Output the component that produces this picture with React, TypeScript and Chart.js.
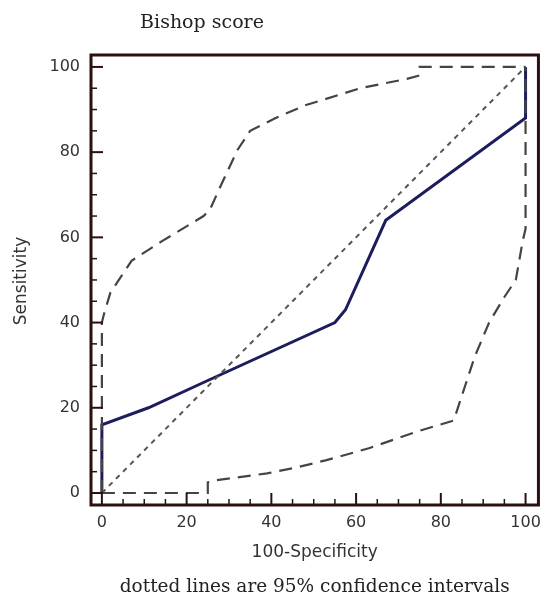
import React, { useEffect, useRef } from "react";
import { Chart, registerables } from "chart.js";

Chart.register(...registerables);

// ---- tick labels / axis ranges ----
const xTickValues = [0, 20, 40, 60, 80, 100];
const yTickValues = [0, 20, 40, 60, 80, 100];
const minorStep = 5;
const xRange = [-2.57, 103.04];
const yRange = [-2.82, 102.8];

// ---- ROC curve (solid) ----
const rocX = [0, 0, 11, 25, 55, 57.5, 67, 100, 100];
const rocY = [0, 16, 20, 26.4, 40, 43, 64, 88, 100];

// ---- reference diagonal ----
const diagX = [0, 100];
const diagY = [0, 100];

// ---- upper 95% confidence bound ----
const upperX = [0, 0, 0.5, 2, 4, 7, 14, 24, 25.5, 28, 32, 35, 41, 48, 61, 72, 75, 75, 100];
const upperY = [0, 40, 42, 47, 50, 54.5, 59, 65, 66.5, 72, 80.5, 85, 88, 91, 95, 97.2, 98, 100, 100];

// ---- lower 95% confidence bound ----
const lowerX = [0, 25, 25, 27, 39, 46, 53, 63, 74, 83, 83.6, 88, 91.4, 95, 97.7, 99.3, 100, 100];
const lowerY = [0, 0, 2.5, 3, 4.6, 6, 7.7, 10.5, 14.3, 17, 18.7, 32, 40, 46, 50, 59, 62, 100];

// ---- texts ----
const titleText = "Bishop score";
const xTitle = "100-Specificity";
const yTitle = "Sensitivity";
const footnote = "dotted lines are 95% confidence intervals";

const pairs = (xs: number[], ys: number[]) => xs.map((x, i) => ({ x, y: ys[i] }));

const FRAME = "#2b1010";

const framePlugin = {
  id: "frameAndTexts",
  afterDatasetsDraw(chart: any) {
    const { ctx, chartArea: a, scales } = chart;
    const xs = scales.x;
    const ys = scales.y;
    ctx.save();
    ctx.strokeStyle = FRAME;
    // inward tick marks
    for (let v = 0; v <= 100; v += minorStep) {
      const major = v % 20 === 0;
      const len = major ? 12 : 6;
      ctx.lineWidth = major ? 2 : 1.5;
      const px = xs.getPixelForValue(v);
      ctx.beginPath();
      ctx.moveTo(px, a.bottom);
      ctx.lineTo(px, a.bottom - len);
      ctx.stroke();
      const py = ys.getPixelForValue(v);
      ctx.beginPath();
      ctx.moveTo(a.left, py);
      ctx.lineTo(a.left + len, py);
      ctx.stroke();
    }
    // frame
    ctx.lineWidth = 3;
    ctx.strokeRect(a.left, a.top, a.right - a.left, a.bottom - a.top);

    // texts
    const cx = (a.left + a.right) / 2;
    ctx.fillStyle = "#222";
    ctx.textAlign = "center";
    ctx.textBaseline = "middle";
    ctx.font = "19px 'DejaVu Serif'";
    ctx.fillText(titleText, 202, 23);
    ctx.font = "18.5px 'DejaVu Serif'";
    ctx.fillText(footnote, cx, 587);
    ctx.fillStyle = "#333";
    ctx.font = "17px 'DejaVu Sans'";
    ctx.fillText(xTitle, cx, 553);
    ctx.save();
    ctx.translate(22, (a.top + a.bottom) / 2 + 1);
    ctx.rotate(-Math.PI / 2);
    ctx.fillText(yTitle, 0, 0);
    ctx.restore();
    ctx.restore();
  },
};

export default function App() {
  const ref = useRef<HTMLCanvasElement | null>(null);
  useEffect(() => {
    if (!ref.current) return;
    const tickFont = { family: "'DejaVu Sans'", size: 16 };
    const chart = new Chart(ref.current, {
      type: "scatter",
      data: {
        datasets: [
          {
            data: pairs(lowerX, lowerY),
            showLine: true,
            borderColor: "#444",
            borderWidth: 2.2,
            borderDash: [13, 8],
            pointRadius: 0,
            fill: false,
            tension: 0,
          },
          {
            data: pairs(upperX, upperY),
            showLine: true,
            borderColor: "#444",
            borderWidth: 2.2,
            borderDash: [13, 8],
            pointRadius: 0,
            fill: false,
            tension: 0,
          },
          {
            data: pairs(diagX, diagY),
            showLine: true,
            borderColor: "#555",
            borderWidth: 2,
            borderDash: [5, 5],
            pointRadius: 0,
            fill: false,
          },
          {
            data: pairs(rocX, rocY),
            showLine: true,
            borderColor: "#1d1d5e",
            borderWidth: 3,
            borderJoinStyle: "miter",
            pointRadius: 0,
            fill: false,
            tension: 0,
          },
        ],
      } as any,
      options: {
        animation: false,
        responsive: false,
        maintainAspectRatio: false,
        layout: { padding: { top: 55, right: 6, left: 0, bottom: 0 } },
        plugins: {
          legend: { display: false },
          tooltip: { enabled: false },
          title: { display: false },
        },
        scales: {
          x: {
            type: "linear",
            min: xRange[0],
            max: xRange[1],
            grid: { display: false, drawTicks: false },
            border: { display: false },
            afterFit: (s: any) => {
              s.height = 96;
            },
            afterBuildTicks: (s: any) => {
              s.ticks = xTickValues.map((v) => ({ value: v }));
            },
            ticks: { font: tickFont, color: "#333", padding: 8, maxRotation: 0, autoSkip: false },
          },
          y: {
            type: "linear",
            min: yRange[0],
            max: yRange[1],
            grid: { display: false, drawTicks: false },
            border: { display: false },
            afterFit: (s: any) => {
              s.width = 91;
            },
            afterBuildTicks: (s: any) => {
              s.ticks = yTickValues.map((v) => ({ value: v }));
            },
            ticks: { font: tickFont, color: "#333", padding: 11, autoSkip: false },
          },
        },
      } as any,
      plugins: [framePlugin],
    });
    return () => chart.destroy();
  }, []);
  return (
    <div style={{ position: "fixed", left: 0, top: 0, width: 549, height: 601, background: "#fff" }}>
      <canvas ref={ref} width={549} height={601} style={{ display: "block" }} />
    </div>
  );
}
